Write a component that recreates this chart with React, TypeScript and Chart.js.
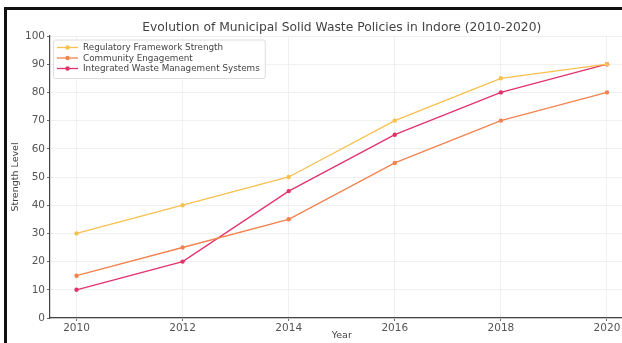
import React, { useEffect, useRef } from 'react';
import { Chart, registerables } from 'chart.js';

Chart.register(...registerables);

const years = [2010, 2012, 2014, 2016, 2018, 2020];
const regulatory = [30, 40, 50, 70, 85, 90];
const community = [15, 25, 35, 55, 70, 80];
const integrated = [10, 20, 45, 65, 80, 90];
const seriesNames = [
  'Regulatory Framework Strength',
  'Community Engagement',
  'Integrated Waste Management Systems',
];
const seriesColors = ['#f8c04e', '#f2834f', '#e2336a'];
const yTicks = [0, 10, 20, 30, 40, 50, 60, 70, 80, 90, 100];
const chartTitle = 'Evolution of Municipal Solid Waste Policies in Indore (2010-2020)';
const xTitle = 'Year';
const yTitle = 'Strength Level';

const FONT = '"DejaVu Sans", sans-serif';

const overlayPlugin = {
  id: 'overlay',
  afterDraw(chart: any) {
    const ctx = chart.ctx;
    const area = chart.chartArea;
    ctx.save();
    // title
    ctx.font = `12.3px ${FONT}`;
    ctx.fillStyle = '#444';
    ctx.textAlign = 'center';
    ctx.textBaseline = 'middle';
    ctx.fillText(chartTitle, (area.left + area.right) / 2, area.top - 8);

    // legend
    ctx.font = `8.8px ${FONT}`;
    const dsets = chart.data.datasets;
    let maxW = 0;
    dsets.forEach((d: any) => {
      maxW = Math.max(maxW, ctx.measureText(d.label).width);
    });
    const bx = area.left + 3;
    const by = area.top + 3.5;
    const rowH = 10.5;
    const bw = 4 + 21 + 5 + maxW + 5;
    const bh = dsets.length * rowH + 7;
    ctx.fillStyle = 'rgba(255,255,255,0.85)';
    ctx.strokeStyle = '#dddddd';
    ctx.lineWidth = 1;
    ctx.beginPath();
    (ctx as any).roundRect(bx + 0.5, by + 0.5, bw, bh, 2);
    ctx.fill();
    ctx.stroke();
    dsets.forEach((d: any, i: number) => {
      const cy = by + 8 + i * rowH;
      const lx = bx + 4;
      ctx.strokeStyle = d.borderColor;
      ctx.lineWidth = 1.3;
      ctx.beginPath();
      ctx.moveTo(lx, cy);
      ctx.lineTo(lx + 21, cy);
      ctx.stroke();
      ctx.fillStyle = d.pointBackgroundColor;
      ctx.beginPath();
      ctx.arc(lx + 10.5, cy, 2.2, 0, Math.PI * 2);
      ctx.fill();
      ctx.fillStyle = '#444';
      ctx.textAlign = 'left';
      ctx.textBaseline = 'middle';
      ctx.fillText(d.label, lx + 26, cy + 0.5);
    });
    ctx.restore();
  },
};

export default function App() {
  const ref = useRef<HTMLCanvasElement | null>(null);

  useEffect(() => {
    if (!ref.current) return;
    const seriesData = [regulatory, community, integrated];
    const chart = new Chart(ref.current, {
      type: 'line',
      data: {
        datasets: seriesData.map((vals, i) => ({
          label: seriesNames[i],
          data: vals.map((v, j) => ({ x: years[j], y: v })),
          borderColor: seriesColors[i],
          backgroundColor: seriesColors[i],
          pointBackgroundColor: seriesColors[i],
          pointBorderColor: seriesColors[i],
          pointRadius: 2.2,
          pointBorderWidth: 0,
          borderWidth: 1.3,
          tension: 0,
          fill: false,
        })),
      },
      options: {
        animation: false,
        responsive: false,
        devicePixelRatio: 1,
        layout: { padding: { top: 36, right: 26.5, bottom: 0, left: 0 } },
        plugins: {
          legend: { display: false },
          title: { display: false },
          tooltip: { enabled: false },
        },
        scales: {
          x: {
            type: 'linear',
            min: 2009.5,
            max: 2020.5,
            afterBuildTicks: (s: any) => {
              s.ticks = years.map((v) => ({ value: v }));
            },
            afterFit: (s: any) => {
              s.height = 25;
            },
            ticks: {
              callback: (v: any) => String(v),
              font: { family: FONT, size: 10.5 },
              color: '#555',
              padding: 1,
              maxRotation: 0,
              autoSkip: false,
            },
            grid: {
              color: '#ececec',
              tickColor: '#444',
              tickLength: 3,
              lineWidth: 0.8,
            },
            border: { color: '#444', width: 1.2 },
            title: {
              display: true,
              text: xTitle,
              font: { family: FONT, size: 9.5 },
              color: '#444',
              padding: { top: 0, bottom: 1.5 },
            },
          },
          y: {
            min: 0,
            max: 100,
            afterBuildTicks: (s: any) => {
              s.ticks = yTicks.map((v) => ({ value: v }));
            },
            afterFit: (s: any) => {
              s.width = 50;
            },
            ticks: {
              font: { family: FONT, size: 10.5 },
              color: '#555',
              padding: 2,
            },
            grid: { color: '#ececec', tickColor: '#444', tickLength: 3, lineWidth: 0.8 },
            border: { color: '#444', width: 1.2 },
            title: {
              display: true,
              text: yTitle,
              font: { family: FONT, size: 9.5 },
              color: '#444',
              padding: { top: 10, bottom: 0 },
            },
          },
        },
      },
      plugins: [overlayPlugin],
    } as any);
    return () => chart.destroy();
  }, []);

  return (
    <div
      style={{
        position: 'fixed',
        left: 0,
        top: 0,
        width: 622,
        height: 343,
        overflow: 'hidden',
        background: '#fff',
      }}
    >
      <div
        style={{
          position: 'absolute',
          left: 4,
          top: 7,
          width: 618,
          height: 336,
          borderTop: '3px solid #111',
          borderLeft: '3px solid #111',
          boxSizing: 'border-box',
        }}
      />
      <canvas
        ref={ref}
        width={660}
        height={343}
        style={{ position: 'absolute', left: 0, top: 0, width: 660, height: 343 }}
      />
    </div>
  );
}
